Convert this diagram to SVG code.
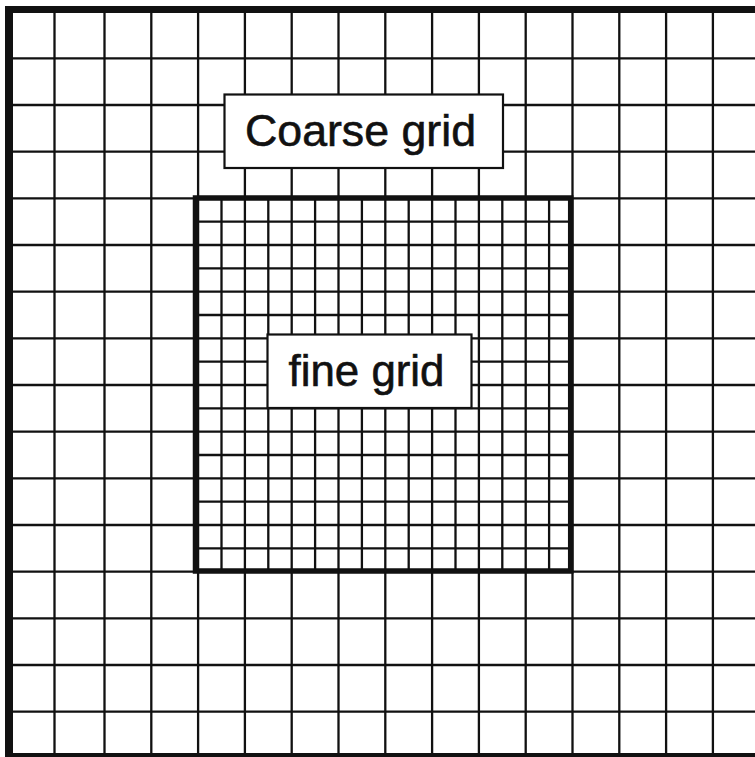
<svg xmlns="http://www.w3.org/2000/svg" width="755" height="757" viewBox="0 0 755 757">
<style>
.g{stroke:#111;stroke-width:2.3;fill:none}
.lbl{fill:#fff;stroke:#111;stroke-width:2.2}
.t{font-family:"Liberation Sans",Arial,sans-serif;font-size:44px;fill:#111;stroke:#111;stroke-width:0.6}
</style>
<rect x="0" y="0" width="755" height="757" fill="#fff"/>
<g id="coarse-grid">
<path class="g" d="M54.5 9V757M104.5 9V757M151.3 9V757M198.1 9V757M244.9 9V757M291.7 9V757M338.5 9V757M385.3 9V757M432.1 9V757M478.9 9V757M525.7 9V757M572.5 9V757M619.3 9V757M666.1 9V757M712.9 9V757"/>
<path class="g" d="M9 58.3H755M9 105H755M9 151.7H755M9 198.3H755M9 245H755M9 291.7H755M9 338.3H755M9 385H755M9 431.7H755M9 478.3H755M9 525H755M9 571.7H755M9 618.3H755M9 665H755M9 711.7H755"/>
<path stroke="#111" stroke-width="8" fill="none" d="M9 757V9"/>
<path stroke="#111" stroke-width="7" fill="none" d="M5 9.5H755"/>
<path stroke="#111" stroke-width="8" fill="none" d="M5 757H755"/>
</g>
<g id="fine-grid">
<path class="g" d="M221.5 198V571M268.3 198V571M315.1 198V571M361.9 198V571M408.7 198V571M455.5 198V571M502.3 198V571M549.1 198V571"/>
<path class="g" d="M195.5 221.65H571M195.5 268.3H571M195.5 315H571M195.5 361.65H571M195.5 408.3H571M195.5 455H571M195.5 501.65H571M195.5 548.3H571"/>
<rect x="195.5" y="198" width="375.2" height="373" fill="none" stroke="#111" stroke-width="5.5"/>
</g>
<g id="coarse-label">
<rect class="lbl" x="224.5" y="94.5" width="278.5" height="73.5"/>
<text class="t" x="245" y="146" textLength="231" lengthAdjust="spacingAndGlyphs">Coarse grid</text>
</g>
<g id="fine-label">
<rect class="lbl" x="267.5" y="334.5" width="204" height="73.5"/>
<text class="t" x="288.5" y="386" textLength="156" lengthAdjust="spacingAndGlyphs">fine grid</text>
</g>
</svg>
